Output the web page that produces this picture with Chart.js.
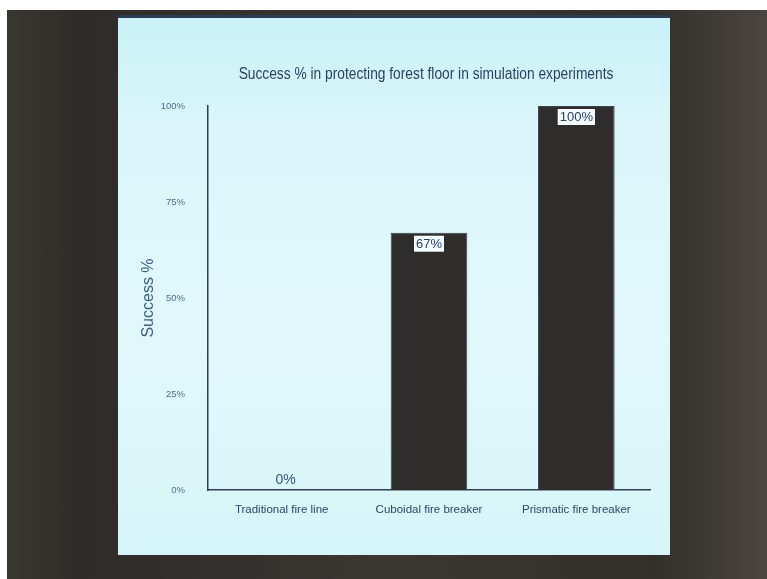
<!DOCTYPE html>
<html>
<head>
<meta charset="utf-8">
<script src="https://cdn.jsdelivr.net/npm/chart.js@4"></script>
<style>
  html, body { margin: 0; padding: 0; width: 767px; height: 579px; overflow: hidden; background: #ffffff; }
  #frame { position: absolute; left: 7px; top: 10px; width: 760px; height: 569px;
           background: linear-gradient(90deg, #3a3631 0%, #2f2b28 10%, #3a3632 50%, #332f2b 85%, #4a4540 100%); }
  #slide { position: absolute; left: 118px; top: 15px; width: 552px; height: 540px;
           background: linear-gradient(180deg, #c9f1f7 0%, #daf6fa 20%, #e1f8fb 60%, #d6f5f8 100%);
           border-top: 3px solid #2d3c56; box-sizing: border-box; }
  #wrap { position: absolute; left: 0; top: 0; width: 767px; height: 579px; }
</style>
</head>
<body>
<div id="frame"></div>
<div id="slide"></div>
<div id="wrap"><canvas id="c" width="767" height="579"></canvas></div>
<script>
const chartTitle = 'Success % in protecting forest floor in simulation experiments';
const categories = ['Traditional fire line', 'Cuboidal fire breaker', 'Prismatic fire breaker'];
const successValues = [0, 67, 100];
const yTickValues = [0, 25, 50, 75, 100];
const yTickLabels = ['0%', '25%', '50%', '75%', '100%'];
const yAxisTitle = 'Success %';

const FONT = "'Liberation Sans', Arial, sans-serif";
const TEXT = '#2d4668';

const titlePlugin = {
  id: 'slideTitle',
  afterDraw(chart) {
    const ctx = chart.ctx, a = chart.chartArea;
    const cx = (a.left + a.right) / 2 - 3;
    ctx.save();
    ctx.translate(cx, 75);
    ctx.scale(0.86, 1);
    ctx.font = '16px ' + FONT;
    ctx.fillStyle = '#2c4264';
    ctx.textAlign = 'center';
    ctx.textBaseline = 'middle';
    ctx.fillText(chartTitle, 0, 0);
    ctx.restore();
  }
};

const labelPlugin = {
  id: 'barLabels',
  afterDatasetsDraw(chart) {
    const ctx = chart.ctx;
    const meta = chart.getDatasetMeta(0);
    ctx.save();
    meta.data.forEach((bar, i) => {
      const v = successValues[i];
      const txt = v + '%';
      if (v === 0) {
        ctx.font = '14px ' + FONT;
        ctx.fillStyle = '#38597c';
        ctx.textAlign = 'center';
        ctx.textBaseline = 'middle';
        ctx.fillText(txt, bar.x + 4, bar.y - 10);
      } else {
        ctx.font = '13px ' + FONT;
        const w = ctx.measureText(txt).width + 4;
        const h = 16;
        const top = bar.y + 3;
        ctx.fillStyle = '#f2fbfd';
        ctx.fillRect(bar.x - w / 2, top, w, h);
        ctx.fillStyle = '#2b3d68';
        ctx.textAlign = 'center';
        ctx.textBaseline = 'middle';
        ctx.fillText(txt, bar.x, top + h / 2 + 0.5);
      }
    });
    ctx.restore();
  }
};

new Chart(document.getElementById('c'), {
  type: 'bar',
  data: {
    labels: categories,
    datasets: [{
      data: successValues,
      backgroundColor: '#2f2c2c',
      borderColor: '#3b4250',
      borderWidth: 1,
      categoryPercentage: 1,
      barPercentage: 0.52
    }]
  },
  options: {
    responsive: false,
    animation: false,
    devicePixelRatio: 1,
    layout: { padding: { left: 139, right: 117, top: 106, bottom: 0 } },
    plugins: { legend: { display: false }, tooltip: { enabled: false }, title: { display: false } },
    scales: {
      x: {
        grid: { display: false },
        border: { display: true, color: '#2e3d52', width: 1.5 },
        ticks: { color: TEXT, font: { family: FONT, size: 11.5 }, padding: 5, maxRotation: 0 },
        afterFit(s) { s.height = 89; }
      },
      y: {
        min: 0, max: 100,
        grid: { display: false },
        border: { display: true, color: '#2e3d52', width: 1.5 },
        afterBuildTicks(s) { s.ticks = yTickValues.map(v => ({ value: v })); },
        ticks: {
          color: '#4d6f8e', font: { family: FONT, size: 9.5 }, padding: 15,
          callback(v) { const i = yTickValues.indexOf(v); return i >= 0 ? yTickLabels[i] : ''; }
        },
        title: { display: true, text: yAxisTitle, color: '#3c5f85', font: { family: FONT, size: 16 }, padding: { top: 0, bottom: 0 } },
        afterFit(s) { s.width = 208 - 139; }
      }
    }
  },
  plugins: [titlePlugin, labelPlugin]
});
</script>
</body>
</html>
